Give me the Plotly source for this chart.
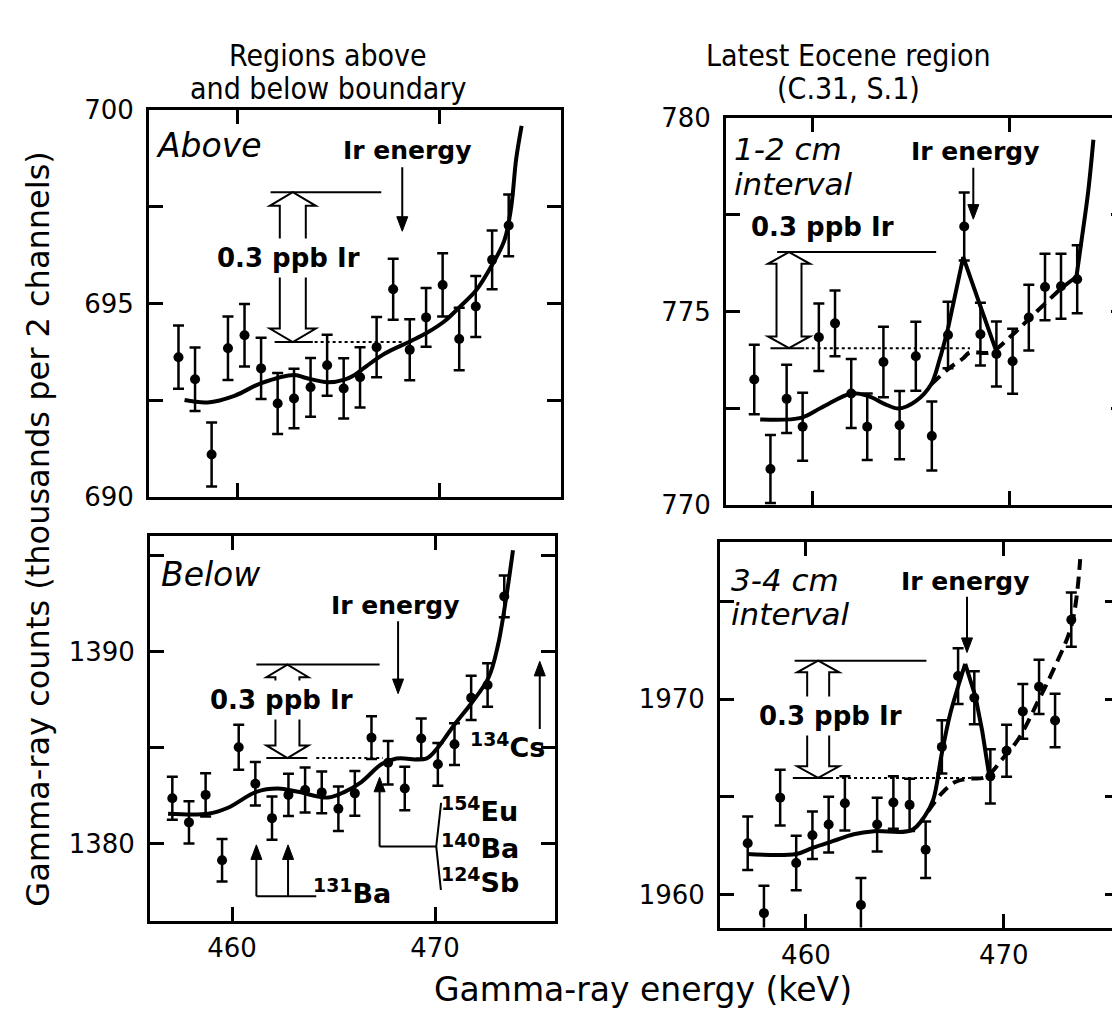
import plotly.graph_objects as go

W, H = 1120, 1019

# ---------------- data ----------------
energy_kev = [457.06, 457.88, 458.70, 459.51, 460.33, 461.15, 461.97, 462.78, 463.60, 464.42,
              465.24, 466.05, 466.87, 467.69, 468.51, 469.32, 470.14, 470.96, 471.78, 472.59, 473.41]

above_counts = [693.61, 693.04, 691.09, 693.84, 694.18, 693.32, 692.41, 692.54, 692.83, 693.40,
                692.80, 693.09, 693.87, 695.37, 693.80, 694.64, 695.48, 694.08, 694.92, 696.13, 697.02]
above_err = [0.82, 0.82, 0.83, 0.82, 0.81, 0.79, 0.79, 0.77, 0.76, 0.79,
             0.78, 0.78, 0.78, 0.79, 0.79, 0.76, 0.82, 0.81, 0.79, 0.76, 0.80]
above_fit_kev = [457.36, 458.51, 459.83, 461.16, 462.81, 463.38, 464.46, 465.28, 465.78, 466.27,
                 467.26, 468.58, 469.36, 470.23, 471.00, 471.80, 472.59, 473.20, 473.53, 473.78, 474.05]
above_fit_counts = [692.50, 692.44, 692.61, 692.94, 693.15, 693.07, 692.96, 693.03, 693.15, 693.34,
                    693.70, 694.03, 694.24, 694.54, 694.92, 695.34, 696.00, 696.64, 697.48, 698.74, 699.60]

below_counts = [1382.38, 1381.12, 1382.55, 1379.15, 1385.03, 1383.13, 1381.34, 1382.55, 1382.80, 1382.68,
                1381.83, 1382.63, 1385.53, 1384.22, 1382.88, 1385.48, 1384.14, 1385.19, 1387.60, 1388.27, 1392.88]
below_err = [1.12, 1.10, 1.13, 1.11, 1.17, 1.13, 1.13, 1.10, 1.17, 1.09,
             1.16, 1.16, 1.11, 1.13, 1.13, 1.05, 1.11, 1.09, 1.15, 1.13, 1.09]
below_fit_kev = [456.85, 458.82, 459.80, 461.20, 462.27, 463.25, 464.73, 465.55, 466.37, 467.36,
                 468.10, 469.57, 470.11, 470.97, 471.79, 472.64, 473.10, 473.51, 473.84]
below_fit_counts = [1381.57, 1381.57, 1381.88, 1382.71, 1382.88, 1382.71, 1382.41, 1382.71, 1383.22, 1384.14,
                    1384.44, 1384.44, 1384.97, 1386.23, 1387.32, 1388.66, 1390.34, 1392.85, 1395.28]

int12_counts = [773.25, 770.94, 772.75, 772.03, 774.34, 774.70, 772.89, 772.03, 773.70, 772.07,
                773.85, 771.79, 774.40, 777.20, 774.42, 773.91, 773.72, 774.85, 775.64, 775.66, 775.84]
int12_err = [0.90, 0.88, 0.88, 0.88, 0.87, 0.85, 0.89, 0.86, 0.91, 0.88,
             0.89, 0.89, 0.86, 0.88, 0.81, 0.84, 0.84, 0.85, 0.86, 0.84, 0.88]
int12_fit_kev = [457.36, 459.42, 460.45, 461.99, 462.84, 463.70, 464.38, 465.24, 466.01, 466.44, 466.87]
int12_fit_counts = [772.22, 772.26, 772.52, 772.89, 772.82, 772.61, 772.50, 772.69, 773.12, 773.76, 774.57]
int12_peak_kev = [466.87, 467.64, 468.49, 469.32]
int12_peak_counts = [774.57, 776.41, 775.17, 773.97]
int12_bkg_kev = [466.01, 466.95, 467.64, 467.98, 469.01, 470.12, 470.92, 471.78, 472.60, 473.37]
int12_bkg_counts = [773.12, 773.55, 773.80, 773.95, 773.95, 774.40, 774.79, 775.21, 775.60, 775.90]
int12_tail_kev = [473.37, 473.63, 473.97, 474.23]
int12_tail_counts = [775.90, 776.84, 778.12, 779.44]

int34_counts = [1962.62, 1959.04, 1964.96, 1961.61, 1963.03, 1963.58, 1964.67, 1959.46, 1963.58, 1964.71,
                1964.59, 1962.29, 1967.56, 1971.19, 1970.08, 1966.05, 1967.36, 1969.38, 1970.64, 1968.91, 1974.08]
int34_err = [1.37, 1.40, 1.43, 1.40, 1.22, 1.43, 1.39, 1.38, 1.38, 1.34,
             1.34, 1.45, 1.36, 1.43, 1.36, 1.39, 1.33, 1.40, 1.39, 1.37, 1.39]
int34_fit_kev = [457.04, 459.51, 460.37, 461.39, 462.42, 463.44, 465.32, 466.00, 466.43, 466.86,
                 467.28, 467.71, 468.05]
int34_fit_counts = [1962.07, 1962.07, 1962.40, 1962.74, 1963.08, 1963.24, 1963.28, 1964.00, 1964.84, 1967.19,
                    1969.21, 1970.72, 1971.82]
int34_peak_kev = [468.05, 468.57, 468.91, 469.25]
int34_peak_counts = [1971.82, 1970.13, 1968.37, 1966.18]
int34_bkg_kev = [466.17, 466.86, 467.54, 468.22, 469.08, 469.93, 470.78, 471.72, 472.49, 473.43, 473.86]
int34_bkg_counts = [1964.25, 1965.18, 1965.76, 1965.93, 1966.02, 1966.94, 1968.03, 1969.88, 1971.48, 1973.83, 1977.19]

# ---------------- layout of the four panels (pixels) ----------------
panels = {
    "above": dict(x="x", y="y", xdom=(141, 553), ydom=(90, 488), xr=(455.6, 476.0), yr=(690, 700),
                  yt=[690, 695, 700], ym=[692.5, 697.5], xlab=False),
    "below": dict(x="x2", y="y2", xdom=(142, 547), ydom=(529, 925), xr=(455.96, 475.91), yr=(1376, 1396),
                  yt=[1380, 1390], ym=[1385, 1395], xlab=True),
    "int12": dict(x="x3", y="y3", xdom=(718, 1117), ydom=(98, 497), xr=(455.63, 475.83), yr=(770, 780),
                  yt=[770, 775, 780], ym=[772.5, 777.5], xlab=False),
    "int34": dict(x="x4", y="y4", xdom=(712, 1111), ydom=(535, 932), xr=(455.66, 475.82), yr=(1958.3, 1978.05),
                  yt=[1960, 1970], ym=[1965, 1975], xlab=True),
}

FONT = "DejaVu Sans, Liberation Sans, Arial, sans-serif"
NARROW = "Liberation Sans Narrow, DejaVu Sans Condensed, Arial Narrow, sans-serif"

fig = go.Figure()


def px_per_unit(p):
    return (p["ydom"][1] - p["ydom"][0]) / (p["yr"][1] - p["yr"][0])


def points(p, counts, err):
    fig.add_trace(go.Scatter(
        x=energy_kev, y=counts, mode="markers", xaxis=p["x"], yaxis=p["y"],
        marker=dict(color="black", size=10),
        error_y=dict(type="data", array=err, visible=True, color="black", thickness=2.5, width=5.5),
        cliponaxis=False, showlegend=False, hoverinfo="skip"))


def curve(p, xs, ys, shape="spline", dash="solid", width=4):
    fig.add_trace(go.Scatter(
        x=xs, y=ys, mode="lines", xaxis=p["x"], yaxis=p["y"],
        line=dict(color="black", width=width, shape=shape, dash=dash, smoothing=1.0),
        showlegend=False, hoverinfo="skip"))


def hline(p, x0, x1, y, dash="solid", width=2):
    fig.add_shape(type="line", xref=p["x"], yref=p["y"], x0=x0, x1=x1, y0=y, y1=y,
                  line=dict(color="black", width=width, dash=dash))


def arrow(p, x, y_tail, y_tip, head_px=15, half_w=5.5):
    d = 1 if y_tip > y_tail else -1
    L = head_px / px_per_unit(p) * d
    fig.add_shape(type="line", xref=p["x"], yref=p["y"], x0=x, x1=x, y0=y_tail, y1=y_tip - L,
                  line=dict(color="black", width=2))
    fig.add_shape(type="path", xref=p["x"], yref=p["y"], xsizemode="pixel", xanchor=x,
                  path=f"M {-half_w},{y_tip - L} L {half_w},{y_tip - L} L 0,{y_tip} Z",
                  fillcolor="black", line=dict(color="black", width=1))


def text(p, x, y, s, size, xanchor="center"):
    fig.add_annotation(xref=p["x"], yref=p["y"], x=x, y=y, text=s, showarrow=False,
                       xanchor=xanchor, yanchor="middle", font=dict(family=FONT, size=size, color="black"))


def hollow_arrow(p, xc, y0, y1, s, h, head_px):
    L = head_px / px_per_unit(p)
    pts = [(-s, y0 + L), (-h, y0 + L), (0, y0), (h, y0 + L), (s, y0 + L),
           (s, y1 - L), (h, y1 - L), (0, y1), (-h, y1 - L), (-s, y1 - L)]
    path = "M " + " L ".join(f"{a},{b}" for a, b in pts) + " Z"
    fig.add_shape(type="path", path=path, xref=p["x"], yref=p["y"], xsizemode="pixel", xanchor=xc,
                  line=dict(color="black", width=2), fillcolor="white")


def ppb_label(p, x, y, masked=True):
    fig.add_annotation(xref=p["x"], yref=p["y"], x=x, y=y, text="<b>0.3 ppb Ir</b>", showarrow=False,
                       font=dict(family=FONT, size=26, color="black"),
                       bgcolor="white" if masked else "rgba(0,0,0,0)", borderpad=4)


# ---- Above ----
pa = panels["above"]
curve(pa, above_fit_kev, above_fit_counts)
points(pa, above_counts, above_err)
hline(pa, 461.62, 467.10, 697.88)
hline(pa, 461.82, 463.71, 694.0)
hline(pa, 463.80, 468.25, 694.0, dash="dot")
hollow_arrow(pa, 462.72, 694.0, 697.88, 13, 23, 14)
ppb_label(pa, 462.51, 696.18)
arrow(pa, 468.14, 698.53, 696.87)
text(pa, 468.40, 698.95, "<b>Ir energy</b>", 25)
text(pa, 455.85, 699.08, "<i>Above</i>", 33, xanchor="left")

# ---- Below ----
pb = panels["below"]
curve(pb, below_fit_kev, below_fit_counts)
points(pb, below_counts, below_err)
hline(pb, 461.20, 467.27, 1389.33)
hline(pb, 461.69, 463.71, 1384.47)
hline(pb, 464.15, 467.43, 1384.47, dash="dot")
hollow_arrow(pb, 462.73, 1384.47, 1389.33, 12, 21, 13)
ppb_label(pb, 462.43, 1387.49)
arrow(pb, 468.18, 1391.59, 1387.82)
text(pb, 468.05, 1392.43, "<b>Ir energy</b>", 25)
text(pb, 456.40, 1394.02, "<i>Below</i>", 33, xanchor="left")
# isotope markers
arrow(pb, 461.20, 1377.27, 1379.95)
arrow(pb, 462.76, 1377.27, 1379.95)
hline(pb, 461.20, 464.15, 1377.27)
text(pb, 465.90, 1377.52, "<b><sup>131</sup>Ba</b>", 27)
arrow(pb, 467.27, 1379.87, 1383.47)
hline(pb, 467.27, 470.06, 1379.87)
fig.add_shape(type="path", xref=pb["x"], yref=pb["y"],
              path="M 470.30,1382.13 L 470.06,1379.87 L 470.29,1377.60",
              line=dict(color="black", width=2))
text(pb, 470.20, 1381.79, "<b><sup>154</sup>Eu</b>", 27, xanchor="left")
text(pb, 470.20, 1379.87, "<b><sup>140</sup>Ba</b>", 27, xanchor="left")
text(pb, 470.20, 1378.11, "<b><sup>124</sup>Sb</b>", 27, xanchor="left")
arrow(pb, 475.16, 1385.98, 1389.50)
text(pb, 473.55, 1385.14, "<b><sup>134</sup>Cs</b>", 27)

# ---- 1-2 cm interval ----
pc = panels["int12"]
curve(pc, int12_fit_kev, int12_fit_counts)
curve(pc, int12_peak_kev, int12_peak_counts, shape="linear")
curve(pc, int12_bkg_kev, int12_bkg_counts, dash="12px,7px")
curve(pc, int12_tail_kev, int12_tail_counts)
points(pc, int12_counts, int12_err)
hline(pc, 458.22, 466.27, 776.54)
hline(pc, 457.88, 459.59, 774.06)
hline(pc, 459.67, 467.98, 774.06, dash="dot")
hollow_arrow(pc, 458.82, 774.06, 776.54, 12.5, 21, 12)
ppb_label(pc, 460.53, 777.20, masked=False)
arrow(pc, 468.15, 778.72, 777.39)
text(pc, 468.24, 779.15, "<b>Ir energy</b>", 25)
text(pc, 455.95, 779.20, "<i>1-2 cm</i>", 31, xanchor="left")
text(pc, 455.95, 778.30, "<i>interval</i>", 31, xanchor="left")

# ---- 3-4 cm interval ----
pd_ = panels["int34"]
curve(pd_, int34_fit_kev, int34_fit_counts)
curve(pd_, int34_peak_kev, int34_peak_counts, shape="linear")
curve(pd_, int34_bkg_kev, int34_bkg_counts, dash="12px,7px")
points(pd_, int34_counts, int34_err)
hline(pd_, 459.43, 466.09, 1971.98)
hline(pd_, 459.34, 461.22, 1965.97)
hline(pd_, 461.22, 469.08, 1965.97, dash="dot")
hollow_arrow(pd_, 460.62, 1965.97, 1971.98, 11, 21, 12)
ppb_label(pd_, 461.22, 1969.13)
arrow(pd_, 468.14, 1975.26, 1972.40)
text(pd_, 468.05, 1976.05, "<b>Ir energy</b>", 25)
text(pd_, 456.10, 1976.10, "<i>3-4 cm</i>", 31, xanchor="left")
text(pd_, 456.10, 1974.35, "<i>interval</i>", 31, xanchor="left")

# ---------------- axes ----------------
layout = {}
for key, p in panels.items():
    xn = "xaxis" + p["x"][1:]
    yn = "yaxis" + p["y"][1:]
    common = dict(showline=True, linewidth=3, linecolor="black", mirror="ticks", ticks="inside",
                  ticklen=14, tickwidth=2.5, tickcolor="black", showgrid=False, zeroline=False,
                  tickfont=dict(family=FONT, size=26, color="black"), fixedrange=True)
    layout[xn] = dict(common, domain=[p["xdom"][0] / W, p["xdom"][1] / W], range=list(p["xr"]),
                      anchor=p["y"], tickmode="array", tickvals=[460, 470],
                      showticklabels=p["xlab"], ticklabelstandoff=2)
    layout[yn] = dict(common, domain=[1 - p["ydom"][1] / H, 1 - p["ydom"][0] / H], range=list(p["yr"]),
                      anchor=p["x"], tickmode="array", tickvals=p["yt"], ticklabelstandoff=7,
                      minor=dict(tickmode="array", tickvals=p["ym"], ticks="inside", ticklen=14,
                                 tickwidth=2.5, tickcolor="black", showgrid=False))

fig.update_layout(width=W, height=H, margin=dict(l=0, r=0, t=0, b=0),
                  plot_bgcolor="white", paper_bgcolor="white", showlegend=False, **layout)


def paper_text(px, py, s, size, family=FONT, angle=0):
    fig.add_annotation(xref="paper", yref="paper", x=px / W, y=1 - py / H, text=s, showarrow=False,
                       xanchor="center", yanchor="middle", textangle=angle,
                       font=dict(family=family, size=size, color="black"))


paper_text(320, 34, "Regions above", 30, NARROW)
paper_text(320, 67, "and below boundary", 30, NARROW)
paper_text(840, 34, "Latest Eocene region", 30, NARROW)
paper_text(840, 67, "(C.31, S.1)", 30, NARROW)
paper_text(30, 522, "Gamma-ray counts (thousands per 2 channels)", 32, FONT, angle=-90)
paper_text(635, 996, "Gamma-ray energy (keV)", 33, FONT)

fig.write_html("out.html")
